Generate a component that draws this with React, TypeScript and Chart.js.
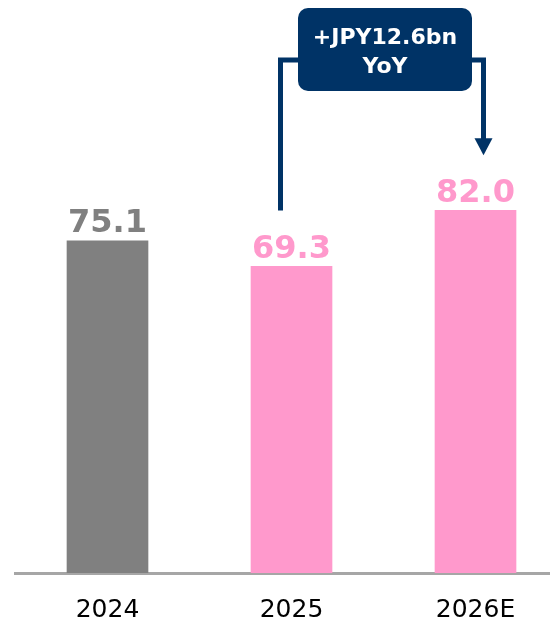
import React, { useEffect, useRef } from "react";
import { Chart, registerables } from "chart.js";

Chart.register(...registerables);

const categories = ["2024", "2025", "2026E"];
const values = [75.1, 69.3, 82.0];
const valueLabels = ["75.1", "69.3", "82.0"];
const barColors = ["#808080", "#ff99cc", "#ff99cc"];
const calloutLines = ["+JPY12.6bn", "YoY"];
const calloutFrom = 1;
const calloutTo = 2;

const NAVY = "#003366";

const valueLabelPlugin = {
  id: "valueLabels",
  afterDatasetsDraw(chart: any) {
    const ctx = chart.ctx;
    const meta = chart.getDatasetMeta(0);
    ctx.save();
    ctx.font = "bold 32px 'DejaVu Sans'";
    ctx.textAlign = "center";
    ctx.textBaseline = "alphabetic";
    meta.data.forEach((bar: any, i: number) => {
      ctx.fillStyle = barColors[i];
      ctx.fillText(valueLabels[i], bar.x, bar.y - 8.5);
    });
    ctx.restore();
  },
};

const calloutPlugin = {
  id: "callout",
  afterDraw(chart: any) {
    const ctx = chart.ctx;
    const xs = chart.scales.x;
    const ys = chart.scales.y;
    const xa = xs.getPixelForValue(calloutFrom) - 11;
    const xb = xs.getPixelForValue(calloutTo) + 8;
    const ya = ys.getPixelForValue(values[calloutFrom]) - 56;
    const yb = ys.getPixelForValue(values[calloutTo]) - 55;
    const lineY = 60;
    const headH = 17;
    const headW = 18;
    ctx.save();
    ctx.strokeStyle = NAVY;
    ctx.fillStyle = NAVY;
    ctx.lineWidth = 5;
    ctx.lineJoin = "miter";
    ctx.beginPath();
    ctx.moveTo(xa, ya);
    ctx.lineTo(xa, lineY);
    ctx.lineTo(xb, lineY);
    ctx.lineTo(xb, yb - headH + 1);
    ctx.stroke();
    ctx.beginPath();
    ctx.moveTo(xb - headW / 2, yb - headH);
    ctx.lineTo(xb + headW / 2, yb - headH);
    ctx.lineTo(xb, yb);
    ctx.closePath();
    ctx.fill();
    // box
    const cx = (xa + xb) / 2 + 3;
    const bw = 174;
    const bh = 83;
    const by = 8;
    ctx.beginPath();
    (ctx as any).roundRect(cx - bw / 2, by, bw, bh, 10);
    ctx.fill();
    ctx.fillStyle = "#ffffff";
    ctx.font = "bold 22px 'DejaVu Sans'";
    ctx.textAlign = "center";
    ctx.textBaseline = "middle";
    calloutLines.forEach((t, i) => {
      ctx.fillText(t, cx, by + 30 + i * 29);
    });
    ctx.restore();
  },
};

export default function App() {
  const ref = useRef<HTMLCanvasElement>(null);
  useEffect(() => {
    const chart = new Chart(ref.current!, {
      type: "bar",
      data: {
        labels: categories,
        datasets: [
          {
            data: values,
            backgroundColor: barColors,
            barThickness: 81,
            borderWidth: 0,
          },
        ],
      },
      options: {
        animation: false,
        responsive: false,
        layout: { padding: { left: 15.5, right: 2.5, top: 20, bottom: 0 } },
        plugins: {
          legend: { display: false },
          tooltip: { enabled: false },
        },
        scales: {
          x: {
            z: 1,
            grid: { display: false, drawTicks: false },
            border: { display: true, color: "#a6a6a6", width: 3 },
            ticks: {
              color: "#000000",
              font: { family: "'DejaVu Sans'", size: 25 },
              padding: 22,
            },
            afterFit(scale: any) {
              scale.height = 50;
            },
          },
          y: {
            display: false,
            min: 0,
            max: 125,
          },
        },
      },
      plugins: [valueLabelPlugin, calloutPlugin],
    });
    return () => chart.destroy();
  }, []);
  return (
    <div
      style={{
        position: "fixed",
        left: 0,
        top: 0,
        width: 570,
        height: 623,
        overflow: "hidden",
        background: "#ffffff",
      }}
    >
      <canvas
        ref={ref}
        width={570}
        height={623}
        style={{ display: "block", width: 570, height: 623 }}
      />
    </div>
  );
}
